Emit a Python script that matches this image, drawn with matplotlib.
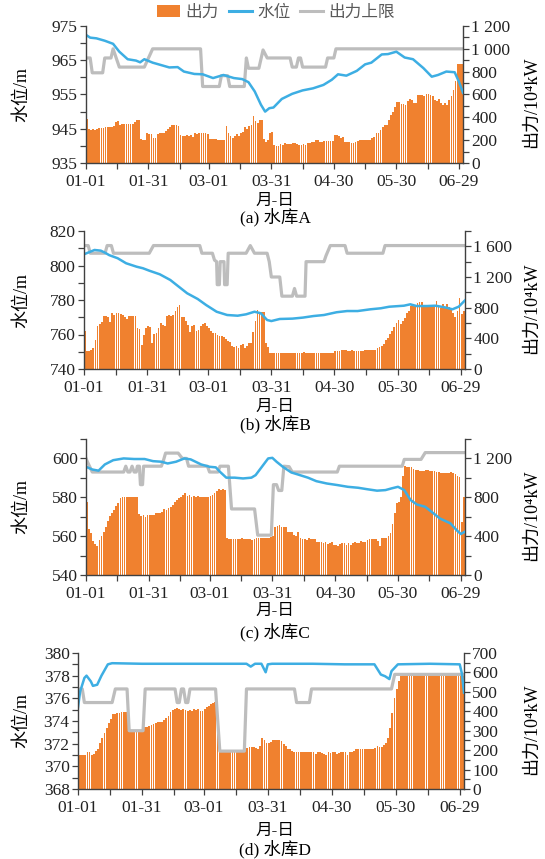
import matplotlib
matplotlib.use("Agg")
import matplotlib.pyplot as plt
import matplotlib.ticker as mticker
from matplotlib.patches import Patch
from matplotlib.lines import Line2D
import numpy as np

plt.rcParams['font.family'] = ['Liberation Serif', 'Noto Sans CJK SC', 'DejaVu Sans']

ORANGE = "#F0812F"
BLUE = "#3DAEE3"
GREY = "#BDBDBD"
AXC = "#404040"

days = np.arange(181)
tick_days = [0, 30, 59, 89, 119, 149, 179]
tick_labels = ["01-01", "01-31", "03-01", "03-31", "04-30", "05-30", "06-29"]
minor_days = [15, 45, 74, 104, 134, 164]
legend_labels = ["出力", "水位", "出力上限"]

# ---- reservoir A ----
a_power = [
    385, 300, 290, 295, 285, 300, 305, 305, 310, 315,
    318, 318, 318, 320, 355, 370, 335, 340, 340, 340,
    340, 345, 345, 360, 375, 380, 213, 200, 204, 262,
    258, 253, 218, 215, 256, 262, 262, 262, 280, 300,
    315, 330, 335, 335, 320, 248, 235, 240, 248, 240,
    245, 228, 262, 258, 262, 262, 262, 262, 255, 213,
    213, 210, 207, 204, 204, 204, 205, 320, 260, 240,
    218, 240, 250, 235, 262, 270, 315, 295, 320, 330,
    408, 370, 350, 380, 379, 213, 180, 205, 262, 271,
    160, 151, 152, 169, 160, 175, 169, 169, 169, 175,
    175, 169, 160, 160, 169, 160, 175, 175, 186, 186,
    198, 198, 186, 186, 190, 195, 195, 195, 190, 248,
    248, 239, 218, 230, 183, 183, 186, 175, 175, 186,
    190, 198, 198, 204, 198, 198, 198, 218, 225, 262,
    262, 291, 315, 335, 335, 379, 422, 451, 489, 530,
    530, 518, 518, 510, 539, 559, 550, 524, 524, 597,
    597, 597, 588, 606, 606, 597, 585, 553, 540, 559,
    524, 504, 524, 510, 553, 588, 641, 714, 870, 870,
    870]
a_lvl_day = [0, 2, 5, 9, 13, 16, 20, 24, 26, 28, 32, 36, 40, 44, 47, 52, 56, 61, 66, 71,
             75, 78, 81, 84, 86, 88, 90, 94, 99, 104, 109, 114, 118, 121, 125, 130, 134, 137, 142, 145,
             149, 153, 157, 162, 166, 169, 173, 177, 179, 181]
a_lvl = [972.4, 971.6, 971.4, 970.7, 969.8, 967.5, 965.3, 964.9, 964.4, 965.3,
         964.3, 963.6, 962.9, 963.0, 961.7, 961.0, 960.9, 959.8, 960.7, 959.8,
         959.5, 958.6, 955.9, 952.0, 950.0, 951.0, 951.2, 953.7, 955.2, 956.2,
         956.8, 957.8, 959.3, 960.9, 960.5, 961.9, 963.8, 964.3, 966.7, 966.8,
         967.5, 965.8, 965.3, 962.7, 960.2, 960.7, 961.7, 961.5, 958.8, 955.5]
a_cap_day = [0, 2, 3, 8, 9, 12, 13, 16, 28, 30, 32, 55, 56, 64, 65, 68, 69, 76, 77, 78,
             83, 85, 87, 98, 99, 101, 102, 103, 104, 115, 116, 119, 120, 181]
a_cap = [920, 920, 790, 790, 920, 920, 1000, 840, 840, 920,
         1000, 1000, 670, 670, 765, 765, 670, 670, 920, 830,
         830, 990, 920, 920, 840, 840, 920, 920, 840, 840,
         920, 920, 1000, 1000]
a_lticks = [935, 945, 955, 965, 975]
a_rticks = [0, 200, 400, 600, 800, 1000, 1200]

# ---- reservoir B ----
b_power = [
    496, 235, 235, 250, 270, 378, 565, 583, 617, 691,
    691, 674, 617, 726, 710, 726, 726, 720, 710, 683,
    648, 691, 691, 691, 691, 530, 520, 313, 440, 530,
    561, 543, 343, 457, 465, 530, 596, 580, 565, 691,
    704, 695, 704, 757, 813, 835, 683, 683, 620, 574,
    487, 561, 574, 496, 509, 561, 583, 596, 561, 530,
    496, 474, 465, 443, 430, 430, 422, 395, 365, 356,
    300, 291, 300, 278, 313, 326, 278, 300, 335, 335,
    478, 630, 770, 739, 739, 739, 335, 283, 213, 213,
    213, 213, 213, 213, 213, 213, 213, 213, 213, 213,
    213, 213, 213, 213, 225, 213, 213, 213, 213, 213,
    213, 213, 213, 213, 213, 213, 213, 213, 213, 235,
    235, 235, 248, 248, 248, 235, 235, 248, 240, 235,
    235, 235, 235, 248, 248, 248, 248, 248, 248, 270,
    283, 304, 322, 378, 409, 452, 496, 552, 600, 639,
    583, 620, 668, 735, 757, 822, 835, 840, 857, 870,
    870, 835, 813, 805, 805, 835, 813, 887, 813, 800,
    843, 813, 843, 805, 800, 726, 683, 760, 930, 713,
    757]
b_lvl_day = [0, 3, 5, 8, 10, 12, 16, 20, 25, 28, 31, 36, 41, 44, 49, 54, 58, 63, 68, 73,
             77, 81, 84, 87, 89, 93, 99, 104, 109, 114, 120, 125, 130, 136, 141, 145, 152, 155, 158, 163,
             167, 172, 175, 178, 181]
b_lvl = [806.5, 808.0, 809.0, 808.6, 807.4, 806.0, 804.2, 801.3, 799.3, 798.4,
         797.0, 794.9, 791.6, 788.7, 783.9, 780.6, 777.1, 773.2, 771.3, 770.9,
         771.7, 773.2, 772.3, 768.4, 767.8, 769.0, 769.2, 769.8, 770.7, 771.3,
         772.9, 773.6, 773.6, 774.6, 775.2, 776.1, 776.7, 777.5, 776.5, 776.5,
         776.7, 775.6, 774.6, 776.1, 779.8]
b_cap_day = [0, 2, 3, 10, 11, 13, 14, 31, 33, 55, 56, 61, 62, 63, 63.3, 64.3, 64.7, 66.5, 66.8, 68,
             68.5, 77, 79, 81, 87, 88, 89, 93, 94, 99, 100, 101, 105, 105.5, 114, 115, 117, 124, 125, 142,
             143, 181]
b_cap = [1610, 1610, 1510, 1510, 1610, 1610, 1510, 1510, 1610, 1610,
         1510, 1510, 1420, 1400, 1100, 1100, 1400, 1400, 1100, 1100,
         1510, 1510, 1610, 1510, 1510, 1400, 1200, 1200, 950, 950,
         1050, 950, 950, 1400, 1400, 1480, 1610, 1610, 1510, 1510,
         1610, 1610]
b_lticks = [740, 760, 780, 800, 820]
b_rticks = [0, 400, 800, 1200, 1600]

# ---- reservoir C ----
c_power = [
    755, 473, 436, 350, 319, 302, 360, 405, 446, 497,
    556, 607, 635, 669, 710, 737, 790, 803, 803, 803,
    803, 803, 803, 803, 803, 628, 611, 614, 600, 614,
    614, 618, 620, 635, 642, 635, 652, 679, 672, 686,
    703, 720, 755, 772, 789, 806, 823, 840, 813, 823,
    799, 813, 806, 813, 806, 806, 799, 806, 799, 813,
    823, 840, 864, 881, 875, 885, 875, 377, 370, 370,
    370, 370, 370, 370, 377, 370, 370, 370, 367, 360,
    370, 377, 385, 385, 385, 385, 385, 385, 390, 400,
    497, 508, 514, 497, 497, 490, 446, 439, 439, 412,
    405, 446, 377, 370, 367, 360, 377, 370, 370, 367,
    343, 336, 336, 326, 336, 316, 326, 336, 309, 309,
    298, 316, 326, 326, 309, 326, 309, 326, 336, 326,
    326, 350, 336, 343, 360, 367, 367, 367, 367, 350,
    298, 377, 377, 384, 405, 429, 521, 635, 737, 755,
    806, 1019, 1120, 1110, 1110, 1110, 1091, 1080, 1085, 1074,
    1070, 1070, 1080, 1080, 1074, 1070, 1070, 1063, 1056, 1046,
    1046, 1050, 1046, 1050, 1056, 1046, 1036, 1022, 1012, 542,
    800]
c_lvl_day = [0, 3, 6, 9, 13, 18, 23, 28, 32, 36, 39, 43, 47, 50, 55, 59, 62, 64, 67, 71,
             75, 79, 81, 84, 87, 89, 91, 94, 98, 101, 106, 110, 115, 120, 125, 130, 134, 139, 143, 146,
             149, 152, 155, 158, 162, 166, 169, 174, 177, 179, 181]
c_lvl = [595.7, 594.3, 593.7, 596.9, 599.1, 600.0, 599.7, 599.7, 598.6, 598.3,
         597.4, 598.3, 600.0, 599.5, 596.9, 595.7, 595.4, 593.1, 590.1, 590.1,
         589.7, 590.1, 591.4, 595.7, 600.0, 600.3, 598.3, 595.7, 592.8, 591.8,
         590.1, 588.3, 587.1, 586.3, 585.4, 584.9, 584.2, 583.4, 583.7, 584.6,
         585.4, 583.7, 578.6, 576.3, 575.1, 571.7, 569.1, 566.6, 563.1, 561.1,
         562.3]
c_cap_day = [0, 1, 3, 18, 19, 20, 21, 22, 23, 24, 24.5, 25.5, 26, 27, 27.5, 36, 37, 38, 44, 46,
             48, 49, 58, 59, 63, 64, 68, 69.5, 80.5, 82, 88.5, 89.5, 91, 92, 93.5, 94.5, 97, 98.5, 120, 121,
             151, 152, 160, 162, 181]
c_cap = [1200, 1150, 1060, 1060, 1120, 1060, 1060, 1120, 1060, 1060,
         1120, 1120, 930, 930, 1120, 1120, 1180, 1255, 1255, 1200,
         1200, 1120, 1120, 1060, 1060, 1120, 1120, 680, 680, 410,
         410, 930, 930, 870, 870, 1120, 1115, 1060, 1060, 1120,
         1120, 1190, 1190, 1260, 1260]
c_lticks = [540, 560, 580, 600]
c_rticks = [0, 400, 800, 1200]

# ---- reservoir D ----
d_power = [
    176, 176, 176, 176, 191, 191, 176, 180, 196, 205,
    235, 265, 290, 312, 341, 358, 384, 386, 389, 393,
    395, 398, 395, 386, 299, 299, 299, 299, 299, 299,
    299, 319, 319, 324, 329, 336, 341, 346, 346, 346,
    355, 367, 376, 395, 405, 413, 418, 410, 405, 410,
    405, 401, 405, 401, 410, 405, 410, 401, 401, 410,
    422, 427, 435, 444, 449, 449, 205, 200, 200, 200,
    200, 200, 200, 200, 200, 200, 200, 200, 200, 210,
    215, 217, 218, 210, 205, 220, 265, 250, 239, 235,
    244, 253, 250, 253, 253, 248, 230, 222, 208, 205,
    196, 193, 188, 188, 191, 191, 188, 191, 193, 188,
    188, 179, 188, 193, 183, 179, 176, 193, 183, 188,
    193, 179, 186, 191, 193, 188, 176, 191, 193, 196,
    208, 208, 208, 205, 205, 205, 205, 205, 205, 213,
    222, 215, 218, 227, 239, 265, 316, 390, 466, 517,
    555, 580, 590, 590, 590, 590, 590, 590, 590, 590,
    590, 590, 590, 590, 590, 590, 590, 590, 590, 590,
    590, 590, 590, 590, 590, 590, 590, 590, 590, 590,
    590]
d_lvl_day = [0, 1, 3, 4, 6, 7, 9, 11, 14, 16, 30, 50, 70, 79, 81, 83, 86, 88, 89, 91,
             110, 125, 139, 142, 144, 146, 147, 150, 165, 179, 180, 181]
d_lvl = [375.2, 376.6, 377.8, 378.0, 377.5, 377.1, 377.2, 378.0, 379.0, 379.1,
         379.05, 379.05, 379.05, 379.05, 378.8, 379.05, 379.05, 378.3, 379.0, 379.05,
         379.05, 379.0, 379.0, 378.1, 377.95, 377.7, 378.4, 379.0, 379.05, 379.0,
         378.2, 376.5]
d_cap_day = [0, 2, 3, 16, 17.5, 23, 24, 30.5, 31.5, 45.5, 46.5, 47.5, 48.5, 49.5, 50.5, 51.5, 52.5, 64.5, 66.5, 78,
             79, 101.5, 102.5, 108.5, 109.5, 147, 148.5, 181]
d_cap = [515, 515, 445, 445, 515, 515, 300, 300, 515, 515,
         445, 445, 515, 515, 445, 445, 515, 515, 195, 195,
         515, 515, 445, 445, 515, 515, 590, 590]
d_lticks = [368, 370, 372, 374, 376, 378, 380]
d_rticks = [0, 100, 200, 300, 400, 500, 600, 700]

W, H = 545, 859
fig = plt.figure(figsize=(W / 100, H / 100), dpi=100)


def fx(px):
    return px / W


def fy(py):
    return 1 - py / H


def space_thousands(v, pos):
    return f"{int(round(v)):,}".replace(",", " ")


def midpoints(t):
    return [(a + b) / 2 for a, b in zip(t[:-1], t[1:])]


def panel(box, power, lvl_day, lvl, cap_day, cap, lyl, lticks, ryl, rticks, caption, xl_y, cap_y):
    x0, y0, x1, y1 = box
    ax = fig.add_axes([fx(x0), fy(y1), fx(x1 - x0), (y1 - y0) / H])
    axr = ax.twinx()
    axr.set_zorder(1)
    ax.set_zorder(2)
    ax.patch.set_visible(False)

    axr.bar(days, power, width=0.84, align='edge', color=ORANGE, linewidth=0, antialiased=False)
    axr.plot(cap_day, cap, color=GREY, lw=2.3)
    ax.plot(lvl_day, lvl, color=BLUE, lw=1.8)

    ax.set_xlim(0, 181)
    ax.set_yticks(lticks)
    ax.set_yticks(midpoints(lticks) + [lticks[-1] + (lticks[1] - lticks[0]) / 2], minor=True)
    axr.set_yticks(rticks)
    axr.set_yticks(midpoints(rticks) + [rticks[-1] + (rticks[1] - rticks[0]) / 2], minor=True)
    ax.set_ylim(*lyl)
    axr.set_ylim(*ryl)
    axr.yaxis.set_major_formatter(mticker.FuncFormatter(space_thousands))
    ax.set_xticks(tick_days)
    ax.set_xticklabels(tick_labels)
    ax.set_xticks(minor_days, minor=True)

    for a in (ax, axr):
        a.spines['top'].set_visible(False)
        for s in a.spines.values():
            s.set_color(AXC)
            s.set_linewidth(1.0)
        a.tick_params(which='both', direction='out', length=4, width=0.9, color=AXC,
                      labelsize=12.5, labelcolor='#222222', pad=2)
    ax.tick_params(axis='x', which='both', pad=4)
    ax.spines['right'].set_visible(False)
    axr.spines['left'].set_visible(False)
    axr.spines['bottom'].set_visible(False)

    ymid = (y0 + y1) / 2
    fig.text(fx(22), fy(ymid), "水位/m", rotation=90, ha='center', va='center', fontsize=13)
    fig.text(fx(531), fy(ymid + 8), "出力/10⁴kW", rotation=90, ha='center', va='center', fontsize=13)
    fig.text(fx(275), fy(xl_y), "月-日", ha='center', va='center', fontsize=12)
    fig.text(fx(275), fy(cap_y), caption, ha='center', va='center', fontsize=12.5)
    return ax


panel((86, 26, 463, 163), a_power, a_lvl_day, a_lvl, a_cap_day, a_cap,
      (935, 975), a_lticks, (0, 1200), a_rticks, "(a) 水库A", 201, 217)
panel((84, 231, 465, 369), b_power, b_lvl_day, b_lvl, b_cap_day, b_cap,
      (740, 820), b_lticks, (0, 1800), b_rticks, "(b) 水库B", 407, 424)
panel((86, 439, 465, 575), c_power, c_lvl_day, c_lvl, c_cap_day, c_cap,
      (540, 610), c_lticks, (0, 1400), c_rticks, "(c) 水库C", 611, 632)
panel((78, 653, 464, 789), d_power, d_lvl_day, d_lvl, d_cap_day, d_cap,
      (368, 380), d_lticks, (0, 700), d_rticks, "(d) 水库D", 831, 849)

handles = [Patch(facecolor=ORANGE, edgecolor='none'),
           Line2D([], [], color=BLUE, lw=2.2),
           Line2D([], [], color=GREY, lw=2.2)]
fig.legend(handles, legend_labels, loc='center', bbox_to_anchor=(fx(276), fy(12)), ncol=3,
           frameon=False, prop={'family': ['Noto Sans CJK SC'], 'size': 12}, labelcolor='#595959',
           handlelength=1.4, handleheight=0.7, handletextpad=0.3, columnspacing=0.6, borderpad=0)

fig.savefig("out.png", dpi=100)
